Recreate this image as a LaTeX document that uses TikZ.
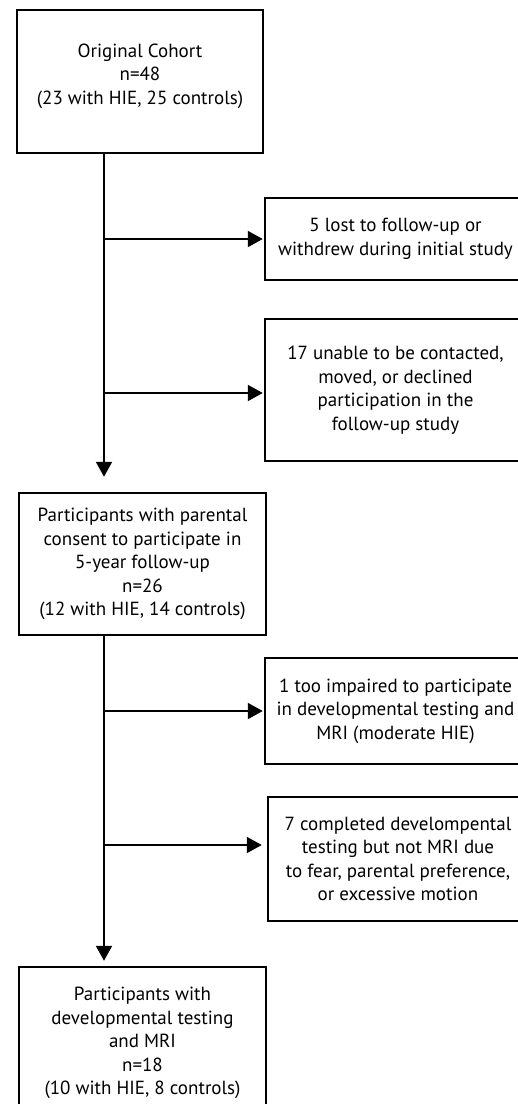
\documentclass[tikz,border=0pt]{standalone}
\usepackage{fontspec}
\setmainfont{PT Sans}
\usetikzlibrary{arrows.meta}

\begin{document}
\begin{tikzpicture}[>={Triangle[length=15pt,width=16pt]}, x=1pt, y=-1pt]
  \tikzset{Box/.style = {draw, line width=2.5pt, align=center, inner sep=0pt,
                         font=\fontsize{19}{23.5}\selectfont}}
  \tikzset{EdgeStyle/.style = {->, line width=2pt}}
  \clip (0,0) rectangle (518,1104);
  \coordinate (spine) at (104,0);

  % main column
  \node[Box, minimum width=246pt, minimum height=143pt, text depth=15pt] (orig) at (140,81.5)
    {Original Cohort\\ n=48\\ (23 with HIE, 25 controls)};
  \node[Box, minimum width=247pt, minimum height=142pt] (cons) at (142.5,564)
    {Participants with parental\\ consent to participate in\\ 5-year follow-up\\ n=26\\ (12 with HIE, 14 controls)};
  \node[Box, minimum width=247pt, minimum height=152pt] (mri) at (142.5,1043)
    {Participants with\\ developmental testing\\ and MRI\\ n=18\\ (10 with HIE, 8 controls)};

  % exclusions
  \node[Box, minimum width=261pt, minimum height=82pt] (lost) at (395.5,239)
    {5 lost to follow-up or\\ withdrew during initial study};
  \node[Box, minimum width=261pt, minimum height=142pt] (declined) at (395.5,390)
    {17 unable to be contacted,\\ moved, or declined\\ participation in the\\ follow-up study};
  \node[Box, minimum width=261pt, minimum height=106pt] (impaired) at (395.5,711)
    {1 too impaired to participate\\ in developmental testing and\\ MRI (moderate HIE)};
  \node[Box, minimum width=260pt, minimum height=124pt] (nomri) at (398,859)
    {7 completed develompental\\ testing but not MRI due\\ to fear, parental preference,\\ or excessive motion};

  \draw[EdgeStyle, shorten >=15pt] (orig.south -| spine) -- (cons.north -| spine);
  \draw[EdgeStyle, shorten >=5pt] (cons.south -| spine) -- (mri.north -| spine);

  \draw[EdgeStyle, shorten >=1pt] (lost.west -| spine) -- (lost.west);
  \draw[EdgeStyle, shorten >=1pt] ([yshift=-3pt]declined.west -| spine) -- ([yshift=-3pt]declined.west);
  \draw[EdgeStyle, shorten >=1pt] (impaired.west -| spine) -- (impaired.west);
  \draw[EdgeStyle, shorten >=5pt] ([yshift=14pt]nomri.west -| spine) -- ([yshift=14pt]nomri.west);
\end{tikzpicture}
\end{document}
